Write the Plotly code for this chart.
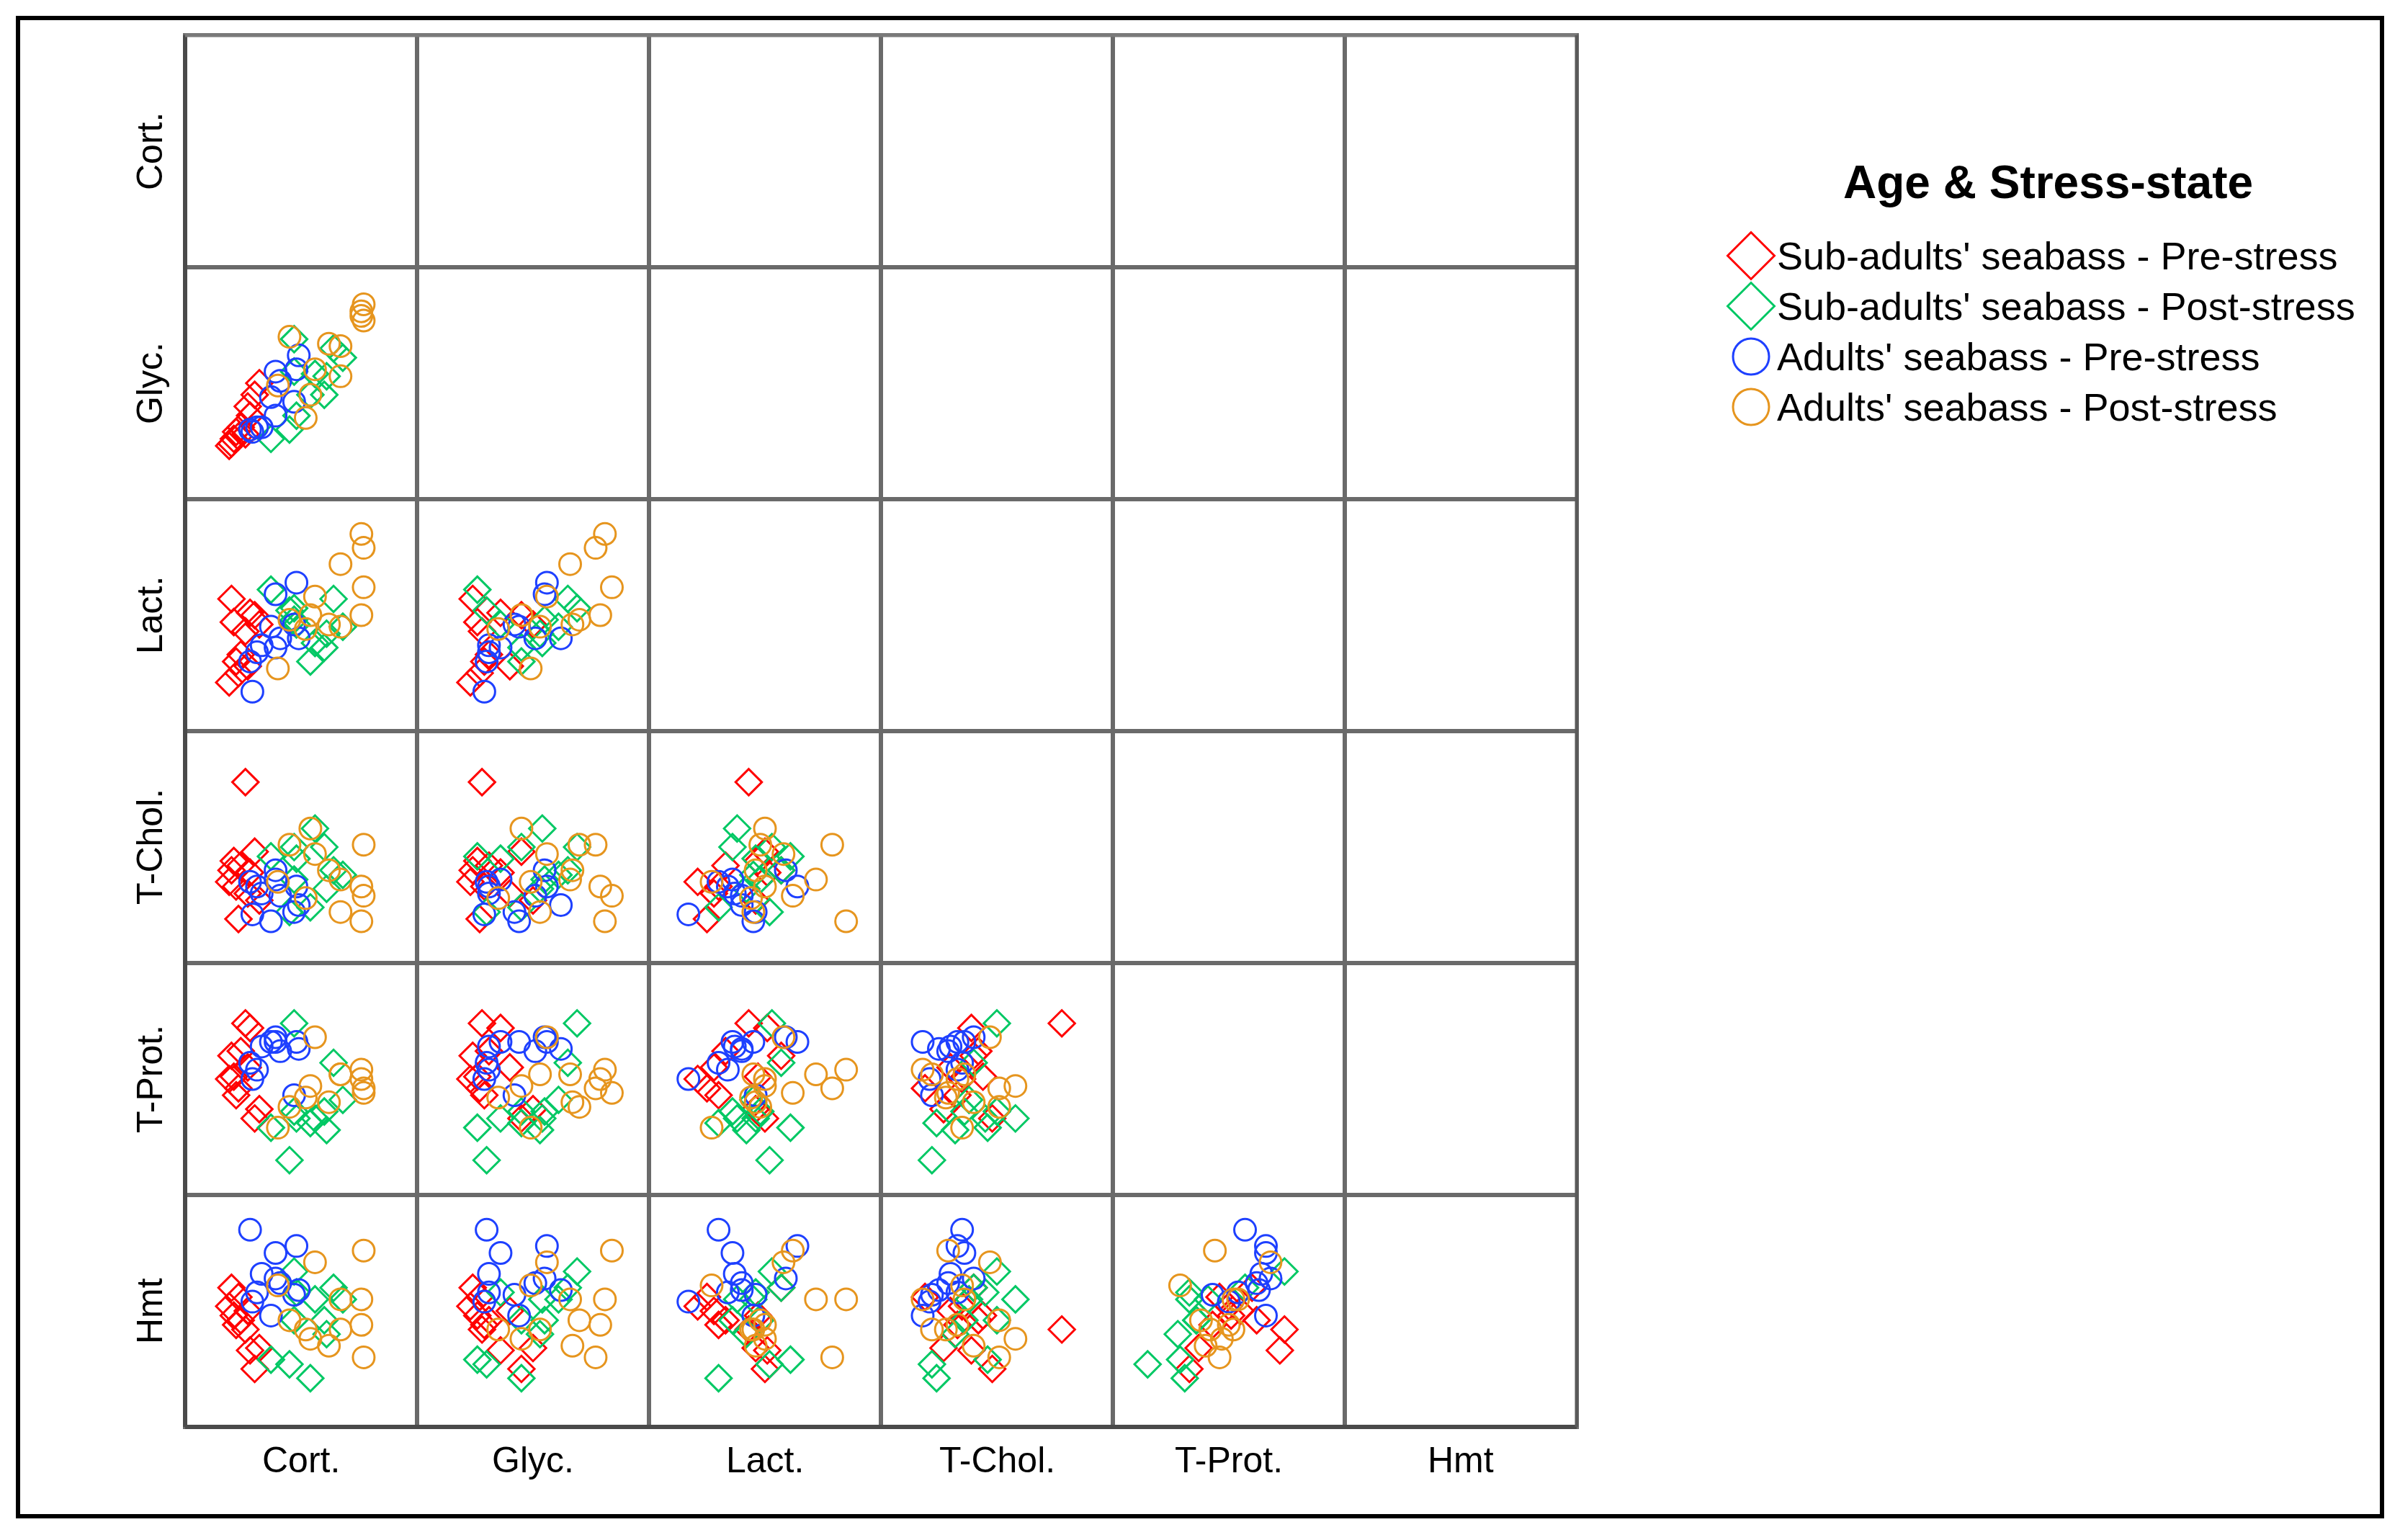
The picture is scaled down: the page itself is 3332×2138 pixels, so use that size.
import plotly.graph_objects as go

# ---------------- data (relative units, 0-100 per variable) ----------------
variables = ["Cort.", "Glyc.", "Lact.", "T-Chol.", "T-Prot.", "Hmt"]
groups = ["Sub-adults' seabass - Pre-stress", "Sub-adults' seabass - Post-stress",
          "Adults' seabass - Pre-stress", "Adults' seabass - Post-stress"]

sub_pre_cort = [26, 28, 20, 21, 22, 19, 30, 32, 24, 23, 27]
sub_pre_glyc = [28, 36, 24, 26, 29, 23, 45, 50, 31, 27, 40]
sub_pre_lact = [43, 51, 57, 47, 30, 21, 50, 46, 33, 25, 28]
sub_pre_tchol = [78, 39, 40, 44, 33, 35, 48, 27, 42, 19, 30]
sub_pre_tprot = [74, 72, 60, 51, 43, 50, 33, 37, 62, 46, 55]
sub_pre_hmt = [42, 33, 60, 48, 44, 52, 25, 34, 46, 56, 50]

sub_post_cort = [45, 37, 54, 47, 64, 68, 47, 56, 61, 60, 48]
sub_post_glyc = [30, 26, 45, 69, 65, 61, 55, 54, 53, 45, 36]
sub_post_lact = [52, 61, 30, 53, 57, 45, 48, 38, 42, 36, 46]
sub_post_tchol = [22, 46, 24, 50, 40, 38, 36, 58, 32, 50, 45]
sub_post_tprot = [15, 29, 31, 74, 57, 41, 36, 33, 28, 36, 33]
sub_post_hmt = [27, 29, 21, 67, 60, 55, 46, 55, 40, 46, 58]

adu_pre_cort = [28, 39, 48, 33, 49, 29, 37, 41, 47, 31, 39]
adu_pre_glyc = [30, 36, 56, 31, 62, 29, 44, 51, 42, 31, 55]
adu_pre_lact = [30, 36, 64, 37, 40, 17, 45, 40, 46, 34, 59]
adu_pre_tchol = [35, 36, 33, 30, 25, 21, 18, 29, 22, 33, 40]
adu_pre_tprot = [57, 66, 66, 64, 63, 50, 66, 62, 43, 54, 68]
adu_pre_hmt = [85, 75, 78, 66, 59, 54, 48, 62, 57, 58, 64]

adu_post_cort = [77, 76, 76, 77, 45, 62, 67, 56, 67, 40, 54, 52]
adu_post_glyc = [84, 81, 79, 77, 70, 67, 66, 56, 53, 49, 45, 35]
adu_post_lact = [62, 85, 50, 79, 48, 46, 72, 58, 45, 27, 50, 44]
adu_post_tchol = [29, 18, 33, 51, 51, 40, 36, 47, 22, 35, 58, 28]
adu_post_tprot = [44, 54, 50, 46, 38, 40, 52, 68, 52, 29, 47, 42]
adu_post_hmt = [76, 55, 44, 30, 46, 35, 55, 71, 42, 61, 38, 42]

group_data = [
    [sub_pre_cort, sub_pre_glyc, sub_pre_lact, sub_pre_tchol, sub_pre_tprot, sub_pre_hmt],
    [sub_post_cort, sub_post_glyc, sub_post_lact, sub_post_tchol, sub_post_tprot, sub_post_hmt],
    [adu_pre_cort, adu_pre_glyc, adu_pre_lact, adu_pre_tchol, adu_pre_tprot, adu_pre_hmt],
    [adu_post_cort, adu_post_glyc, adu_post_lact, adu_post_tchol, adu_post_tprot, adu_post_hmt],
]

# ---------------- styles ----------------
colors = ["#FF0000", "#00C864", "#1E40FF", "#E6951E"]
symbols = ["diamond-open", "diamond-open", "circle-open", "circle-open"]
msizes = [28, 28, 30, 30]
leg_sizes = [50, 50, 50, 50]

W, H = 3332, 2138
GL, GT, CELL = 257, 49, 322
FONT = "Liberation Sans, Arial, sans-serif"
n = len(variables)

fig = go.Figure()
layout = {}

def px_x(v):
    return v / W

def px_y(v):
    return 1 - v / H

for r in range(n):
    for c in range(n):
        idx = r * n + c + 1
        sx = "" if idx == 1 else str(idx)
        x0 = GL + CELL * c
        y0 = GT + CELL * r
        layout["xaxis" + sx] = dict(domain=[px_x(x0), px_x(x0 + CELL)], range=[0, 100],
                                    showticklabels=False, showgrid=False, zeroline=False,
                                    showline=True, mirror=True, linecolor="#6a6a6a",
                                    linewidth=3, ticks="", anchor="y" + sx, fixedrange=True)
        layout["yaxis" + sx] = dict(domain=[px_y(y0 + CELL), px_y(y0)], range=[0, 100],
                                    showticklabels=False, showgrid=False, zeroline=False,
                                    showline=True, mirror=True, linecolor="#6a6a6a",
                                    linewidth=3, ticks="", anchor="x" + sx, fixedrange=True)
        if r > c:
            for g in range(4):
                fig.add_trace(go.Scatter(
                    x=group_data[g][c], y=group_data[g][r], mode="markers",
                    xaxis="x" + sx, yaxis="y" + sx, showlegend=False,
                    marker=dict(symbol=symbols[g], size=msizes[g],
                                color=colors[g], line=dict(color=colors[g], width=3)),
                    name=groups[g], hoverinfo="skip"))
        else:
            # empty cell of the matrix (keeps its frame)
            fig.add_trace(go.Scatter(x=[], y=[], mode="markers", xaxis="x" + sx,
                                     yaxis="y" + sx, showlegend=False, hoverinfo="skip"))

# legend drawn on its own small axis
lx = "37"
LEG_CX, LEG_TOP, LEG_STEP = 2431, 320, 70
layout["xaxis" + lx] = dict(domain=[px_x(LEG_CX - 60), px_x(LEG_CX + 60)], range=[-1, 1],
                            visible=False, anchor="y" + lx, fixedrange=True)
layout["yaxis" + lx] = dict(domain=[px_y(LEG_TOP + 4 * LEG_STEP), px_y(LEG_TOP)],
                            range=[3.5, -0.5], type="category", categoryorder="array",
                            categoryarray=groups, visible=False, anchor="x" + lx, fixedrange=True)
for g in range(4):
    fig.add_trace(go.Scatter(
        x=[0], y=[groups[g]], mode="markers", xaxis="x" + lx, yaxis="y" + lx,
        showlegend=False, hoverinfo="skip",
        marker=dict(symbol=symbols[g], size=leg_sizes[g], color=colors[g],
                    line=dict(color=colors[g], width=3))))

annotations = []
for g in range(4):
    annotations.append(dict(x=0, y=groups[g], xref="x" + lx, yref="y" + lx, text=groups[g],
                            showarrow=False, xanchor="left", yanchor="middle", xshift=34,
                            font=dict(family=FONT, size=54, color="black")))
annotations.append(dict(x=px_x(2843), y=px_y(253), xref="paper", yref="paper",
                        text="<b>Age & Stress-state</b>", showarrow=False,
                        xanchor="center", yanchor="middle",
                        font=dict(family=FONT, size=64, color="black")))

for i, v in enumerate(variables):
    annotations.append(dict(x=px_x(208), y=px_y(GT + CELL * i + CELL / 2), xref="paper",
                            yref="paper", text=v, showarrow=False, textangle=-90,
                            xanchor="center", yanchor="middle",
                            font=dict(family=FONT, size=50, color="black")))
    annotations.append(dict(x=px_x(GL + CELL * i + CELL / 2), y=px_y(2027), xref="paper",
                            yref="paper", text=v, showarrow=False,
                            xanchor="center", yanchor="middle",
                            font=dict(family=FONT, size=50, color="black")))

GR = GL + CELL * n
GB = GT + CELL * n
shapes = [
    dict(type="rect", xref="paper", yref="paper", x0=px_x(25), x1=px_x(3307),
         y0=px_y(2105), y1=px_y(25), line=dict(color="black", width=6)),
    dict(type="line", xref="paper", yref="paper", x0=px_x(GL), x1=px_x(GL),
         y0=px_y(GB), y1=px_y(GT), line=dict(color="#4a4a4a", width=6)),
    dict(type="line", xref="paper", yref="paper", x0=px_x(GL), x1=px_x(GR),
         y0=px_y(GB), y1=px_y(GB), line=dict(color="#4a4a4a", width=6)),
    dict(type="line", xref="paper", yref="paper", x0=px_x(GL), x1=px_x(GR),
         y0=px_y(GT), y1=px_y(GT), line=dict(color="#7a7a7a", width=5)),
    dict(type="line", xref="paper", yref="paper", x0=px_x(GR), x1=px_x(GR),
         y0=px_y(GB), y1=px_y(GT), line=dict(color="#5a5a5a", width=5)),
]

fig.update_layout(width=W, height=H, margin=dict(l=0, r=0, t=0, b=0),
                  paper_bgcolor="white", plot_bgcolor="white",
                  annotations=annotations, shapes=shapes, showlegend=False,
                  **layout)

fig.write_html("out.html", config={"displayModeBar": False},
               post_script="document.body.style.margin='0px';")
